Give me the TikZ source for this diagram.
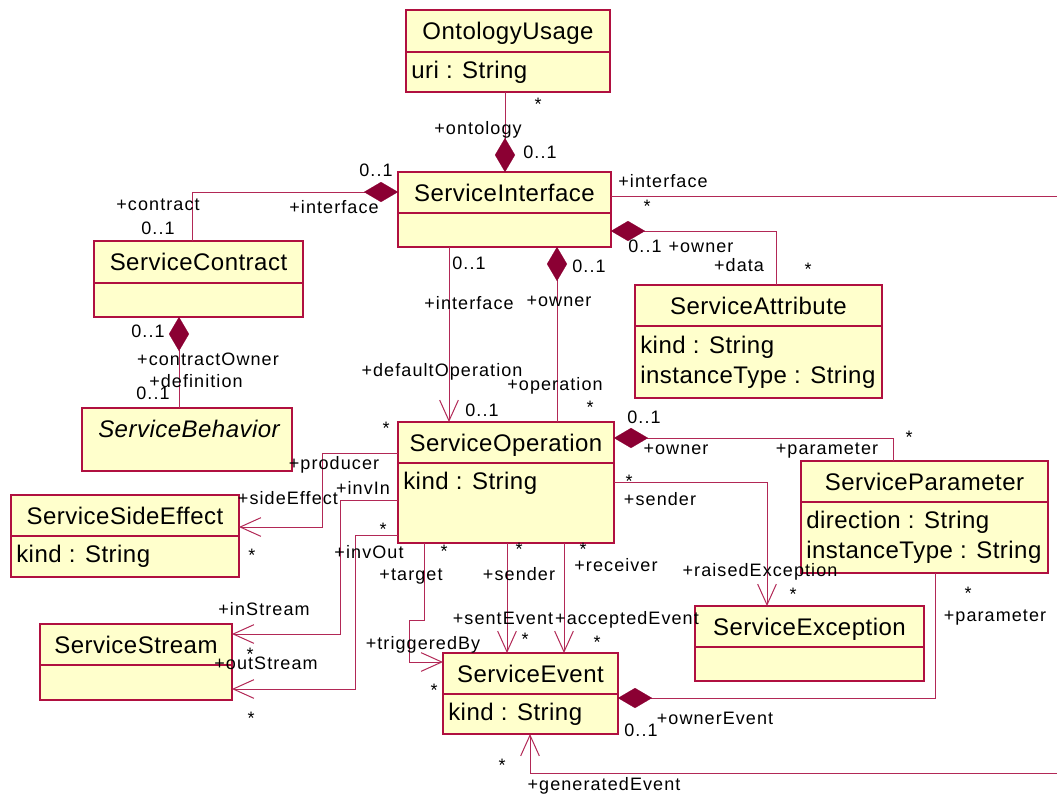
\documentclass[tikz,border=0pt]{standalone}
\usepackage{fontspec}
\setmainfont{Liberation Sans}
\newfontfamily\lblfont[LetterSpace=6]{Liberation Sans}
\newfontfamily\clsfont[LetterSpace=2]{Liberation Sans}
\usetikzlibrary{arrows.meta}

\definecolor{umlline}{RGB}{178,40,86}
\definecolor{umlborder}{RGB}{176,16,64}
\definecolor{umlfill}{RGB}{255,255,204}
\definecolor{umldia}{RGB}{139,0,51}

\tikzset{
  classbox/.style={draw=umlborder, fill=umlfill, line width=0.9pt, rectangle,
    inner sep=0pt, outer sep=0pt},
  classrule/.style={draw=umlborder, line width=0.9pt},
  classname/.style={inner sep=0pt, text height=0.72em, text depth=0pt, yshift=-3pt,
    font=\clsfont\fontsize{18}{20}\selectfont},
  classattr/.style={classname, anchor=west},
  assocline/.style={draw=umlline, line width=0.75pt},
  comp/.style={assocline,
    -{Diamond[length=25.5pt,width=15pt,fill=umldia,color=umldia,line width=0.1pt]}},
  nav/.style={assocline, -{Straight Barb[length=15.5pt,width=14pt]}},
  rolelbl/.style={inner sep=0pt, text height=0.72em, text depth=0pt, yshift=-1.5pt,
    font=\lblfont\fontsize{13.5}{15}\selectfont},
  multstar/.style={inner sep=0pt, text height=1.14em, text depth=0pt, yshift=-0.75pt,
    font=\lblfont\fontsize{13.5}{15}\selectfont},
}

% class box: name, x1, y1, x2, y2, compartment rule y, title
\newcommand\umlclass[7]{%
  \node[classbox, anchor=north west,
        minimum width={(#4-#2)*0.75pt}, minimum height={(#5-#3)*0.75pt}]
        (#1) at (#2,#3) {};
  \draw[classrule] (#2,#6) -- (#4,#6);
  \node[classname] (#1-title) at ({(#2+#4)/2},{(#3+#6)/2}) {#7};
}

\begin{document}
\begin{tikzpicture}[x=0.75pt, y=-0.75pt]
\useasboundingbox (0,0) rectangle (1057,794);
\fill[white] (0,0) rectangle (1057,794);

% ---------- classes ----------
\umlclass{ou}{406}{10}{610}{92}{52}{OntologyUsage}
\node[classattr] (ou-a1) at (411,70) {uri : String};

\umlclass{si}{398}{172}{611}{247}{213}{ServiceInterface}

\umlclass{sc}{94}{241}{303}{317}{283}{ServiceContract}

\node[classbox, anchor=north west, minimum width={(292-82)*0.75pt},
      minimum height={(471-408)*0.75pt}] (sb) at (82,408) {};
\node[classname] (sb-title) at (189,429) {\itshape ServiceBehavior};

\umlclass{sa}{635}{285}{882}{398}{326}{ServiceAttribute}
\node[classattr] (sa-a1) at (640,345) {kind : String};
\node[classattr] (sa-a2) at (640,375) {instanceType : String};

\umlclass{so}{398}{422}{614}{543}{463}{ServiceOperation}
\node[classattr] (so-a1) at (403,481) {kind : String};

\umlclass{sse}{11}{495}{239}{577}{536}{ServiceSideEffect}
\node[classattr] (sse-a1) at (16,554) {kind : String};

\umlclass{ss}{40}{624}{232}{700}{665}{ServiceStream}

\umlclass{se}{443}{653}{618}{734}{694}{ServiceEvent}
\node[classattr] (se-a1) at (448,712) {kind : String};

\umlclass{sx}{695}{606}{924}{681}{647}{ServiceException}

\umlclass{sp}{801}{461}{1048}{573}{502}{ServiceParameter}
\node[classattr] (sp-a1) at (806,520) {direction : String};
\node[classattr] (sp-a2) at (806,550) {instanceType : String};

% ---------- associations ----------
\coordinate (ifEnd) at (1057,196);
\coordinate (genEnd) at (1057,773);

\draw[comp] (ou.south -| 505,0) -- (si.north -| 505,0);
\draw[comp] (sc.north -| 192,0) |- (si.west |- 0,192);
\draw[comp] (sb.north -| 179,0) -- (sc.south -| 179,0);
\draw[nav]  (si.south -| 449,0) -- (so.north -| 449,0);
\draw[comp] (so.north -| 557,0) -- (si.south -| 557,0);
\draw[comp] (sa.north -| 776,0) |- (si.east |- 0,231);
\draw[assocline] (si.east |- 0,196) -- (ifEnd);

\draw[nav] (so.west |- 0,453) -| (322,527) -- (sse.east |- 0,527);
\draw[nav] (so.west |- 0,500) -| (340,634) -- (ss.east |- 0,634);
\draw[nav] (so.west |- 0,535) -| (355,689) -- (ss.east |- 0,689);
\draw[nav] (so.south -| 424,0) |- (409,620) |- (se.west |- 0,662);
\draw[nav] (so.south -| 507,0) -- (se.north -| 507,0);
\draw[nav] (so.south -| 564,0) -- (se.north -| 564,0);
\draw[comp] (sp.north -| 893,0) |- (so.east |- 0,438);
\draw[nav] (so.east |- 0,482) -| (sx.north -| 767,0);
\draw[comp] (sp.south -| 935,0) |- (se.east |- 0,698);
\draw[nav] (genEnd) -| (se.south -| 530,0);

% ---------- role names and multiplicities ----------
\foreach \x/\y/\t [count=\k] in {
  478/128/+ontology, 540/152/0..1,
  376/170/0..1, 334/207/+interface, 158/204/+contract, 158/228/0..1,
  148/331/0..1, 208/359/+contractOwner, 196/381/+definition, 153/393/0..1,
  469/263/0..1, 469/303/+interface, 442/370/+defaultOperation, 482/410/0..1,
  589/266/0..1, 559/300/+owner, 555/384/+operation,
  645/246/0..1, 701/246/+owner, 739/265/+data,
  663/181/+interface,
  334/463/+producer, 288/498/+sideEffect,
  363/488/+invIn, 264/609/+inStream,
  369/552/+invOut, 266/663/+outStream,
  411/574/+target, 423/643/+triggeredBy,
  519/574/+sender, 503/618/+sentEvent,
  616/565/+receiver, 627/618/+acceptedEvent,
  644/417/0..1, 676/448/+owner, 827/448/+parameter,
  660/499/+sender, 760/570/+raisedException,
  995/615/+parameter, 715/718/+ownerEvent, 641/730/0..1,
  604/784/+generatedEvent}
  \node[rolelbl] (role\k) at (\x,\y) {\t};

\foreach \x/\y [count=\k] in {
  538/102, 590/405, 808/267, 647/204, 386/426, 252/553, 250/652,
  383/527, 251/716, 444/549, 434/688, 519/547, 525/637, 583/547,
  597/640, 909/435, 629/479, 793/592, 968/591, 502/763}
  \node[multstar] (mult\k) at (\x,\y) {*};
\end{tikzpicture}
\end{document}
